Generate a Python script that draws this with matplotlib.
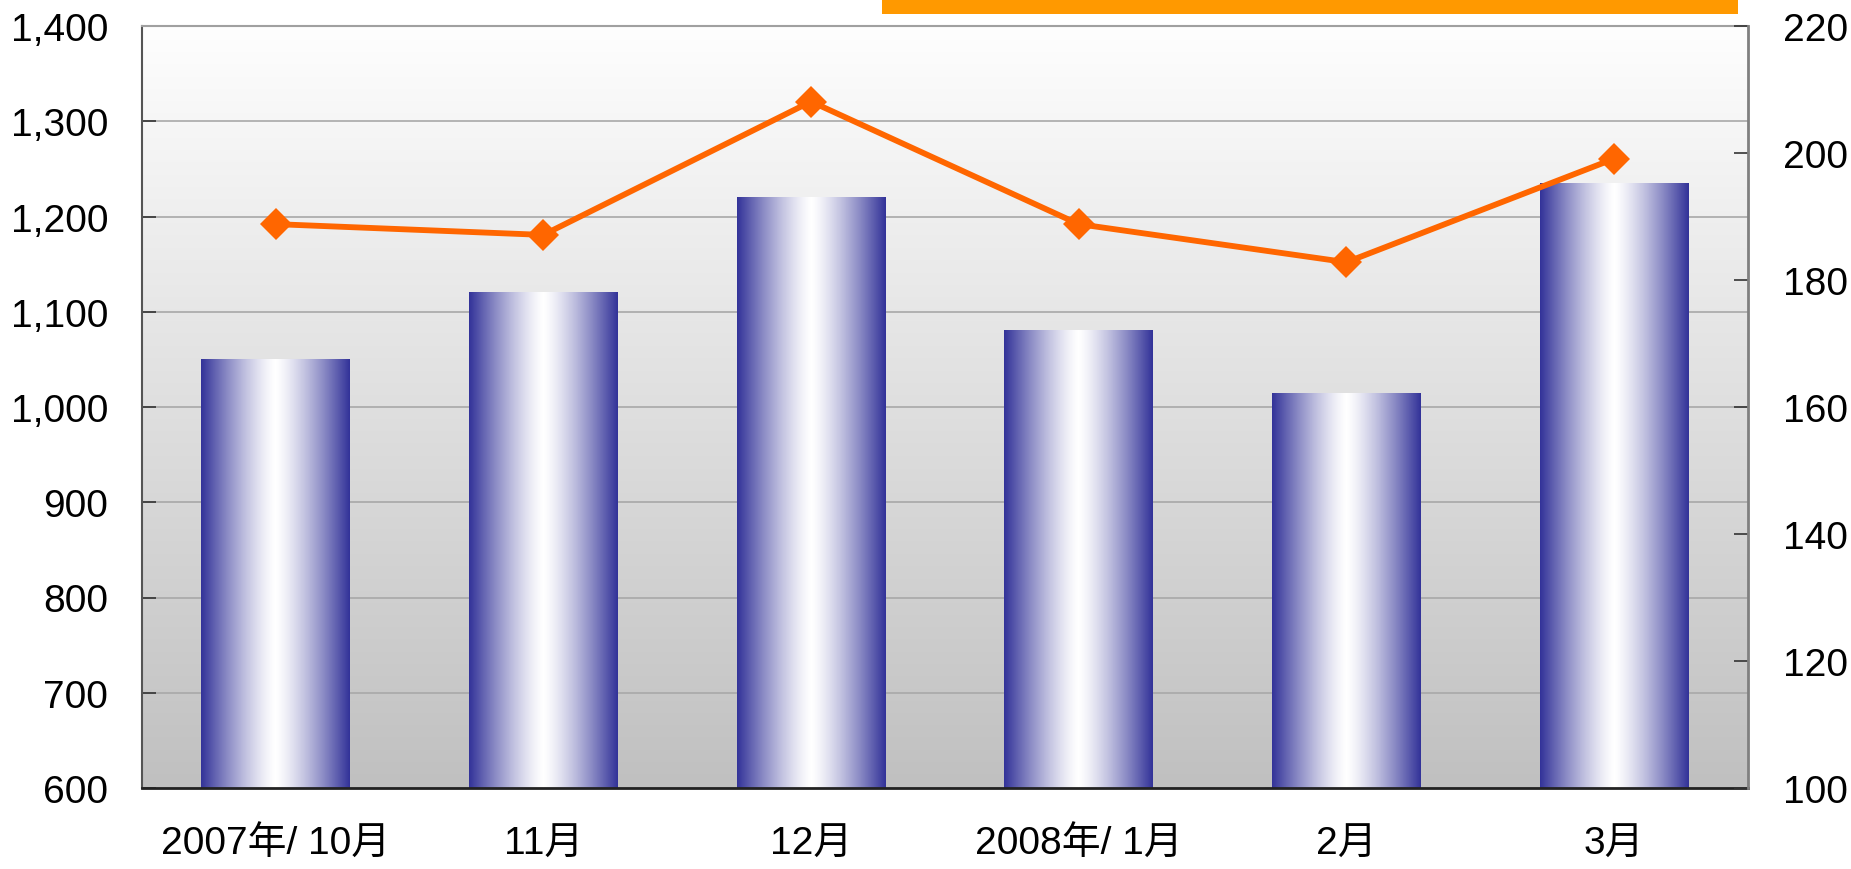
import numpy as np
import matplotlib
matplotlib.use('Agg')
import matplotlib.pyplot as plt
from matplotlib.colors import LinearSegmentedColormap
from matplotlib.patches import Rectangle

plt.rcParams['font.family'] = ['Liberation Sans', 'Noto Sans CJK JP']

# データ
months = ['2007年/ 10月', '11月', '12月', '2008年/ 1月', '2月', '3月']
bar_values = [1050, 1120, 1220, 1080, 1014, 1235]
line_values = [188.8, 187.1, 208.1, 188.8, 182.8, 199.1]

W, H = 1851, 870
fig = plt.figure(figsize=(W / 100, H / 100), dpi=100)
ax = fig.add_axes([141.7 / W, 1 - 789 / H, (1748 - 141.7) / W, (789 - 27) / H])

x = np.arange(len(months))
YMIN, YMAX = 600, 1400

# 背景のグラデーション
bg = np.linspace(0, 1, 256).reshape(-1, 1)
bg_cmap = LinearSegmentedColormap.from_list('bg', ['#c0c0c0', '#fefefe'])
ax.imshow(bg, cmap=bg_cmap, aspect='auto', origin='lower',
          extent=(0, 1, 0, 1), transform=ax.transAxes, zorder=0)

ax.set_yticks(range(YMIN, YMAX + 1, 100))
ax.yaxis.set_major_formatter(matplotlib.ticker.FuncFormatter(lambda v, p: f'{int(v):,}'))
ax.grid(axis='y', color='#a8a8a8', linewidth=1.2, zorder=1)
ax.set_axisbelow(True)

# 棒（横方向のグラデーション）
bars = ax.bar(x, bar_values, width=0.555, color='none', edgecolor='none', zorder=2)
t = np.abs(np.linspace(-1, 1, 256)) ** 1.3
grad = t.reshape(1, -1)
bar_cmap = LinearSegmentedColormap.from_list('bar', ['#ffffff', '#333399'])
for b in bars:
    x0 = b.get_x()
    y0 = max(b.get_y(), YMIN)
    ax.imshow(grad, cmap=bar_cmap, aspect='auto', vmin=0, vmax=1,
              extent=(x0, x0 + b.get_width(), y0, b.get_y() + b.get_height()), zorder=2)
ax.set_xlim(-0.5, len(months) - 0.5)
ax.set_ylim(YMIN, YMAX)

ax.set_xticks(x)
ax.set_xticklabels(months)
ax.tick_params(axis='x', length=0, pad=27, labelsize=28)
ax.tick_params(axis='y', direction='in', length=10, width=1.2, color='#333333',
               pad=24, labelsize=28)

ax.spines['left'].set_color('#555555')
ax.spines['left'].set_linewidth(1.5)
ax.spines['bottom'].set_color('#222222')
ax.spines['bottom'].set_linewidth(2)
ax.spines['top'].set_color('#a0a0a0')
ax.spines['top'].set_linewidth(1.5)
ax.spines['right'].set_visible(False)

# 右軸の折れ線
ax2 = ax.twinx()
ax2.set_ylim(100, 220)
ax2.set_yticks(range(100, 221, 20))
ax2.plot(x, line_values, color='#ff6600', linewidth=4.2, marker='D',
         markersize=16, markeredgewidth=0, zorder=5)
ax2.tick_params(axis='y', direction='in', length=10, width=1.2, color='#333333',
                pad=25, labelsize=28)
for s in ['left', 'top', 'bottom']:
    ax2.spines[s].set_visible(False)
ax2.spines['right'].set_color('#808080')
ax2.spines['right'].set_linewidth(2)

# 上部のオレンジ帯
fig.add_artist(Rectangle((882 / W, 1 - 15 / H), (1738 - 882) / W, 15 / H,
                         transform=fig.transFigure, color='#ff9900', lw=0))

fig.savefig('out.png', dpi=100)
